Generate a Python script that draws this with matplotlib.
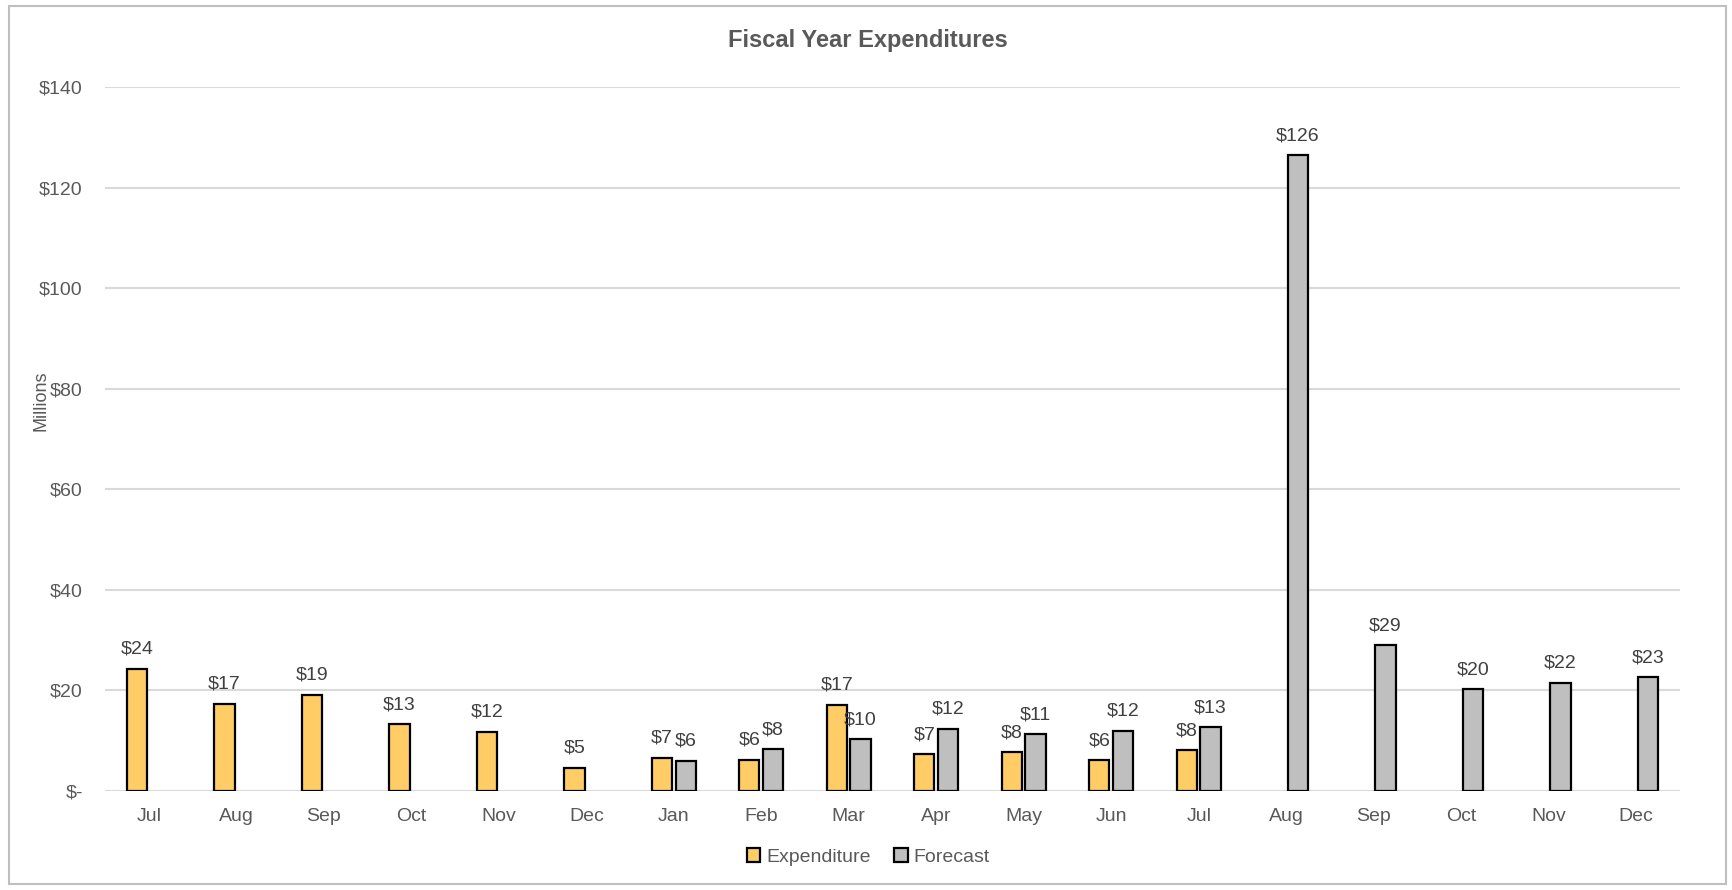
import numpy as np
import matplotlib
matplotlib.use("Agg")
import matplotlib.pyplot as plt
from matplotlib.patches import Rectangle

# Datos (millones)
meses = ["Jul", "Aug", "Sep", "Oct", "Nov", "Dec", "Jan", "Feb", "Mar",
         "Apr", "May", "Jun", "Jul", "Aug", "Sep", "Oct", "Nov", "Dec"]
gasto = [24.3, 17.4, 19.1, 13.3, 11.8, 4.6, 6.6, 6.2, 17.2, 7.3, 7.7, 6.1, 8.1,
         np.nan, np.nan, np.nan, np.nan, np.nan]
pronostico = [np.nan, np.nan, np.nan, np.nan, np.nan, np.nan, 6.0, 8.3, 10.3,
              12.4, 11.3, 12.0, 12.7, 126.4, 29.0, 20.2, 21.5, 22.6]
ticks_y = [0, 20, 40, 60, 80, 100, 120, 140]

plt.rcParams['font.family'] = ['Liberation Sans', 'DejaVu Sans']
gris_texto = '#595959'

fig = plt.figure(figsize=(17.33, 8.90), dpi=100)
ax = fig.add_axes([0.0606, 0.1112, 0.9088, 0.791])

x = np.arange(len(meses))
ancho = 0.23
desp = 0.135

b1 = ax.bar(x - desp, gasto, ancho, color='#FFCC66', edgecolor='black',
            linewidth=1.6, label='Expenditure', zorder=3)
b2 = ax.bar(x + desp, pronostico, ancho, color='#BFBFBF', edgecolor='black',
            linewidth=1.6, label='Forecast', zorder=3)

def etiquetas(vals):
    return ['' if np.isnan(v) else '$%d' % round(v) for v in vals]

ax.bar_label(b1, labels=etiquetas(gasto), padding=8, fontsize=14, color='#404040')
ax.bar_label(b2, labels=etiquetas(pronostico), padding=8, fontsize=14, color='#404040')

ax.set_xlim(-0.5, len(meses) - 0.5)
ax.set_ylim(0, 140)
ax.set_yticks(ticks_y)
ax.set_yticklabels(['$-' if t == 0 else '$%d' % t for t in ticks_y])
ax.set_xticks(x)
ax.set_xticklabels(meses)
ax.tick_params(axis='both', length=0, labelsize=14, labelcolor=gris_texto)
ax.tick_params(axis='y', pad=16)
ax.tick_params(axis='x', pad=12)

#Se dibuja el grid
ax.yaxis.grid(True, color='#D9D9D9', linewidth=1.5, zorder=0)
for s in ax.spines.values():
    s.set_visible(False)

fig.text(0.501, 0.954, 'Fiscal Year Expenditures', ha='center', va='center',
         fontsize=17, fontweight='bold', color=gris_texto)
fig.text(0.0237, 0.55, 'Millions', rotation=90, ha='center', va='center',
         fontsize=13, color=gris_texto)

fig.legend(handles=[b1, b2], loc='center', bbox_to_anchor=(0.501, 0.037),
           ncol=2, frameon=False, fontsize=14, handlelength=0.7, handleheight=0.7,
           handletextpad=0.3, columnspacing=1.2, labelcolor=gris_texto)

# Borde del area del grafico
fig.patches.append(Rectangle((0.005, 0.0067), 0.991, 0.9865, transform=fig.transFigure,
                             fill=False, edgecolor='#BFBFBF', linewidth=1.5))

fig.savefig('out.png', dpi=100)
